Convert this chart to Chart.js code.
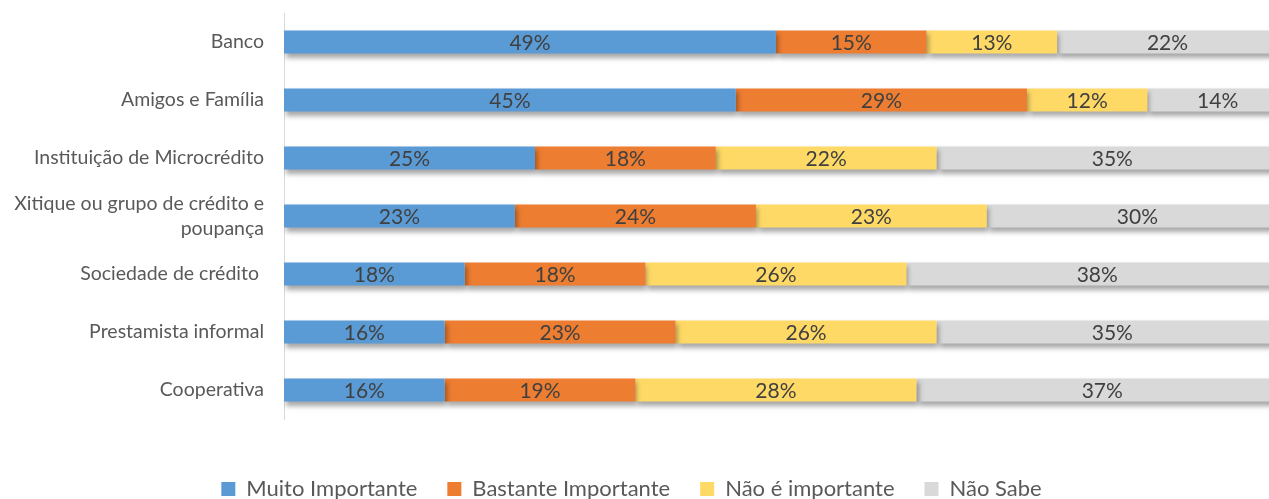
<!DOCTYPE html>
<html>
<head>
<meta charset="utf-8">
<script src="https://cdn.jsdelivr.net/npm/chart.js@4/dist/chart.umd.min.js"></script>
<style>
  html, body { margin: 0; padding: 0; overflow: hidden; background: #fff; }
</style>
</head>
<body>
<canvas id="chart" width="1292" height="510"></canvas>
<script>
const categories = [
    "Banco",
    "Amigos e Família",
    "Instituição de Microcrédito",
    ["Xitique ou grupo de crédito e", "poupança"],
    "Sociedade de crédito ",
    "Prestamista informal",
    "Cooperativa"
];
const muitoImportante = [49, 45, 25, 23, 18, 16, 16];
const bastanteImportante = [15, 29, 18, 24, 18, 23, 19];
const naoImportante = [13, 12, 22, 23, 26, 26, 28];
const naoSabe = [22, 14, 35, 30, 38, 35, 37];

// sombra das barras (como no Excel)
const barShadow = {
    id: 'barShadow',
    beforeDatasetsDraw(chart) {
        const ctx = chart.ctx;
        ctx.save();
        ctx.shadowColor = 'rgba(0,0,0,0.35)';
        ctx.shadowBlur = 5;
        ctx.shadowOffsetX = 2;
        ctx.shadowOffsetY = 4;
    },
    afterDatasetsDraw(chart) {
        chart.ctx.restore();
    }
};

// rótulos de valor no centro de cada segmento
const valueLabels = {
    id: 'valueLabels',
    afterDatasetsDraw(chart) {
        const ctx = chart.ctx;
        ctx.save();
        ctx.font = '21px Lato';
        ctx.fillStyle = '#404040';
        ctx.textAlign = 'center';
        ctx.textBaseline = 'middle';
        chart.data.datasets.forEach((ds, i) => {
            chart.getDatasetMeta(i).data.forEach((bar, j) => {
                const x = (bar.x + bar.base) / 2;
                ctx.fillText(ds.data[j] + '%', x, bar.y + 1);
            });
        });
        ctx.restore();
    }
};

const ctx = document.getElementById('chart');
const chart = new Chart(ctx, {
    type: 'bar',
    data: {
        labels: categories,
        datasets: [
            { label: 'Muito Importante', data: muitoImportante, backgroundColor: '#5B9BD5' },
            { label: 'Bastante Importante', data: bastanteImportante, backgroundColor: '#ED7D31' },
            { label: 'Não é importante', data: naoImportante, backgroundColor: '#FFD966' },
            { label: 'Não Sabe', data: naoSabe, backgroundColor: '#D9D9D9' }
        ]
    },
    options: {
        indexAxis: 'y',
        responsive: false,
        animation: false,
        barPercentage: 0.4,
        categoryPercentage: 1,
        layout: {
            padding: { top: 13, right: 4, left: -25, bottom: 0 }
        },
        scales: {
            x: {
                stacked: true,
                min: 0,
                max: 100,
                ticks: { display: false },
                grid: { display: false },
                border: { display: false },
                afterFit: s => { s.height = 29; }
            },
            y: {
                stacked: true,
                grid: { display: false, drawTicks: false },
                border: { color: '#D9D9D9', width: 1 },
                ticks: {
                    padding: 20,
                    color: '#595959',
                    font: { family: 'Lato', size: 19.5, lineHeight: 1.3 }
                },
                afterFit: s => {
                    s.width = 309;
                    s.paddingTop = 0;
                    s.paddingBottom = 0;
                }
            }
        },
        plugins: {
            legend: {
                position: 'bottom',
                labels: {
                    boxWidth: 14,
                    boxHeight: 14,
                    padding: 30,
                    color: '#595959',
                    font: { family: 'Lato', size: 22 }
                }
            },
            tooltip: { enabled: false }
        }
    },
    plugins: [barShadow, valueLabels]
});
</script>
</body>
</html>
